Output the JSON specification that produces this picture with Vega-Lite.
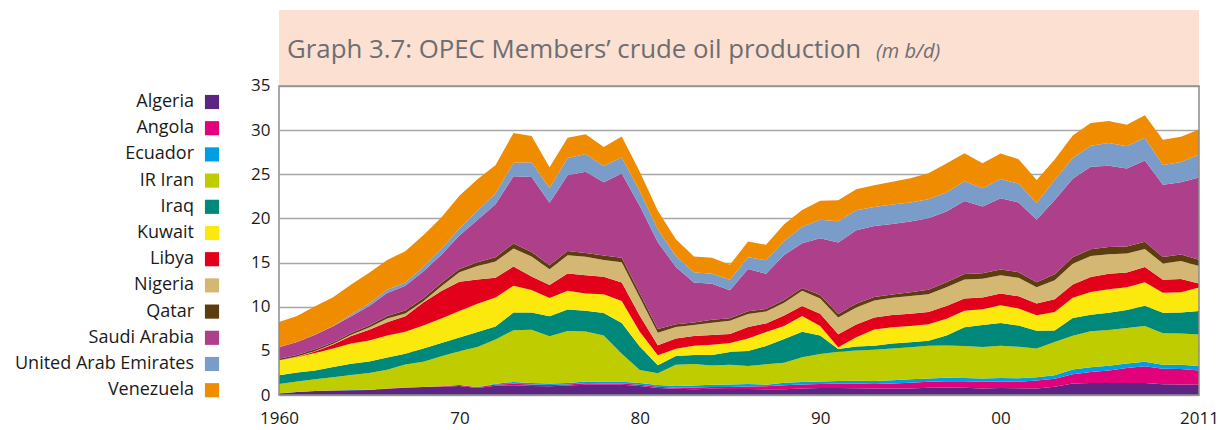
{
  "$schema": "https://vega.github.io/schema/vega-lite/v6.json",
  "width": 920,
  "height": 385,
  "autosize": {"type": "none"},
  "padding": {"left": 279, "top": 10, "right": 31, "bottom": 35},
  "background": "white",
  "config": {"view": {"stroke": null}, "font": "Open Sans"},
  "data": {"values": [
    {"year":1960,"Algeria":0.18,"Angola":0,"Ecuador":0.0075,"IR Iran":1.07,"Iraq":0.97,"Kuwait":1.69,"Libya":0,"Nigeria":0.017,"Qatar":0.17,"Saudi Arabia":1.31,"United Arab Emirates":0,"Venezuela":2.85},
    {"year":1961,"Algeria":0.33,"Angola":0.001,"Ecuador":0.008,"IR Iran":1.2,"Iraq":1.01,"Kuwait":1.74,"Libya":0.018,"Nigeria":0.046,"Qatar":0.18,"Saudi Arabia":1.48,"United Arab Emirates":0,"Venezuela":2.92},
    {"year":1962,"Algeria":0.44,"Angola":0.001,"Ecuador":0.007,"IR Iran":1.33,"Iraq":1.01,"Kuwait":1.96,"Libya":0.18,"Nigeria":0.068,"Qatar":0.19,"Saudi Arabia":1.64,"United Arab Emirates":0.014,"Venezuela":3.2},
    {"year":1963,"Algeria":0.5,"Angola":0.002,"Ecuador":0.0065,"IR Iran":1.49,"Iraq":1.16,"Kuwait":2.1,"Libya":0.46,"Nigeria":0.076,"Qatar":0.19,"Saudi Arabia":1.79,"United Arab Emirates":0.048,"Venezuela":3.25},
    {"year":1964,"Algeria":0.55,"Angola":0.002,"Ecuador":0.0076,"IR Iran":1.71,"Iraq":1.26,"Kuwait":2.3,"Libya":0.86,"Nigeria":0.12,"Qatar":0.22,"Saudi Arabia":1.9,"United Arab Emirates":0.19,"Venezuela":3.39},
    {"year":1965,"Algeria":0.56,"Angola":0.013,"Ecuador":0.0078,"IR Iran":1.91,"Iraq":1.31,"Kuwait":2.36,"Libya":1.22,"Nigeria":0.27,"Qatar":0.23,"Saudi Arabia":2.21,"United Arab Emirates":0.28,"Venezuela":3.47},
    {"year":1966,"Algeria":0.72,"Angola":0.012,"Ecuador":0.0073,"IR Iran":2.13,"Iraq":1.39,"Kuwait":2.48,"Libya":1.5,"Nigeria":0.42,"Qatar":0.29,"Saudi Arabia":2.6,"United Arab Emirates":0.36,"Venezuela":3.37},
    {"year":1967,"Algeria":0.83,"Angola":0.01,"Ecuador":0.0062,"IR Iran":2.6,"Iraq":1.23,"Kuwait":2.5,"Libya":1.74,"Nigeria":0.32,"Qatar":0.32,"Saudi Arabia":2.81,"United Arab Emirates":0.38,"Venezuela":3.54},
    {"year":1968,"Algeria":0.9,"Angola":0.015,"Ecuador":0.005,"IR Iran":2.84,"Iraq":1.5,"Kuwait":2.61,"Libya":2.6,"Nigeria":0.14,"Qatar":0.34,"Saudi Arabia":3.04,"United Arab Emirates":0.5,"Venezuela":3.6},
    {"year":1969,"Algeria":0.94,"Angola":0.05,"Ecuador":0.0044,"IR Iran":3.38,"Iraq":1.52,"Kuwait":2.77,"Libya":3.11,"Nigeria":0.54,"Qatar":0.36,"Saudi Arabia":3.22,"United Arab Emirates":0.63,"Venezuela":3.59},
    {"year":1970,"Algeria":1.03,"Angola":0.1,"Ecuador":0.0041,"IR Iran":3.83,"Iraq":1.55,"Kuwait":2.99,"Libya":3.32,"Nigeria":1.08,"Qatar":0.36,"Saudi Arabia":3.8,"United Arab Emirates":0.78,"Venezuela":3.71},
    {"year":1971,"Algeria":0.78,"Angola":0.11,"Ecuador":0.0037,"IR Iran":4.54,"Iraq":1.69,"Kuwait":3.2,"Libya":2.76,"Nigeria":1.53,"Qatar":0.43,"Saudi Arabia":4.77,"United Arab Emirates":1.06,"Venezuela":3.55},
    {"year":1972,"Algeria":1.06,"Angola":0.14,"Ecuador":0.078,"IR Iran":5.02,"Iraq":1.47,"Kuwait":3.28,"Libya":2.24,"Nigeria":1.82,"Qatar":0.48,"Saudi Arabia":6.02,"United Arab Emirates":1.2,"Venezuela":3.22},
    {"year":1973,"Algeria":1.1,"Angola":0.16,"Ecuador":0.21,"IR Iran":5.86,"Iraq":2.02,"Kuwait":3.02,"Libya":2.18,"Nigeria":2.05,"Qatar":0.57,"Saudi Arabia":7.6,"United Arab Emirates":1.53,"Venezuela":3.37},
    {"year":1974,"Algeria":1.01,"Angola":0.17,"Ecuador":0.18,"IR Iran":6.02,"Iraq":1.97,"Kuwait":2.55,"Libya":1.52,"Nigeria":2.26,"Qatar":0.52,"Saudi Arabia":8.48,"United Arab Emirates":1.68,"Venezuela":2.98},
    {"year":1975,"Algeria":0.98,"Angola":0.16,"Ecuador":0.16,"IR Iran":5.35,"Iraq":2.26,"Kuwait":2.08,"Libya":1.48,"Nigeria":1.78,"Qatar":0.44,"Saudi Arabia":7.08,"United Arab Emirates":1.66,"Venezuela":2.35},
    {"year":1976,"Algeria":1.08,"Angola":0.1,"Ecuador":0.19,"IR Iran":5.88,"Iraq":2.42,"Kuwait":2.15,"Libya":1.93,"Nigeria":2.07,"Qatar":0.5,"Saudi Arabia":8.58,"United Arab Emirates":1.93,"Venezuela":2.29},
    {"year":1977,"Algeria":1.15,"Angola":0.19,"Ecuador":0.18,"IR Iran":5.66,"Iraq":2.35,"Kuwait":1.97,"Libya":2.06,"Nigeria":2.09,"Qatar":0.44,"Saudi Arabia":9.2,"United Arab Emirates":2.0,"Venezuela":2.24},
    {"year":1978,"Algeria":1.16,"Angola":0.13,"Ecuador":0.2,"IR Iran":5.24,"Iraq":2.56,"Kuwait":2.13,"Libya":1.98,"Nigeria":1.9,"Qatar":0.49,"Saudi Arabia":8.3,"United Arab Emirates":1.83,"Venezuela":2.17},
    {"year":1979,"Algeria":1.15,"Angola":0.14,"Ecuador":0.21,"IR Iran":3.17,"Iraq":3.48,"Kuwait":2.5,"Libya":2.09,"Nigeria":2.3,"Qatar":0.51,"Saudi Arabia":9.53,"United Arab Emirates":1.83,"Venezuela":2.36},
    {"year":1980,"Algeria":1.02,"Angola":0.15,"Ecuador":0.2,"IR Iran":1.47,"Iraq":2.65,"Kuwait":1.66,"Libya":1.83,"Nigeria":2.06,"Qatar":0.47,"Saudi Arabia":9.9,"United Arab Emirates":1.7,"Venezuela":2.17},
    {"year":1981,"Algeria":0.8,"Angola":0.13,"Ecuador":0.21,"IR Iran":1.32,"Iraq":0.9,"Kuwait":1.13,"Libya":1.14,"Nigeria":1.43,"Qatar":0.42,"Saudi Arabia":9.82,"United Arab Emirates":1.47,"Venezuela":2.1},
    {"year":1982,"Algeria":0.7,"Angola":0.13,"Ecuador":0.2,"IR Iran":2.39,"Iraq":1.01,"Kuwait":0.82,"Libya":1.15,"Nigeria":1.29,"Qatar":0.33,"Saudi Arabia":6.48,"United Arab Emirates":1.25,"Venezuela":1.9},
    {"year":1983,"Algeria":0.66,"Angola":0.18,"Ecuador":0.24,"IR Iran":2.44,"Iraq":1.01,"Kuwait":1.06,"Libya":1.1,"Nigeria":1.24,"Qatar":0.27,"Saudi Arabia":4.54,"United Arab Emirates":1.15,"Venezuela":1.8},
    {"year":1984,"Algeria":0.7,"Angola":0.2,"Ecuador":0.26,"IR Iran":2.17,"Iraq":1.21,"Kuwait":1.16,"Libya":1.09,"Nigeria":1.39,"Qatar":0.33,"Saudi Arabia":4.08,"United Arab Emirates":1.15,"Venezuela":1.8},
    {"year":1985,"Algeria":0.67,"Angola":0.23,"Ecuador":0.28,"IR Iran":2.25,"Iraq":1.43,"Kuwait":1.02,"Libya":1.02,"Nigeria":1.5,"Qatar":0.29,"Saudi Arabia":3.18,"United Arab Emirates":1.19,"Venezuela":1.68},
    {"year":1986,"Algeria":0.67,"Angola":0.28,"Ecuador":0.29,"IR Iran":2.04,"Iraq":1.69,"Kuwait":1.42,"Libya":1.31,"Nigeria":1.47,"Qatar":0.31,"Saudi Arabia":4.78,"United Arab Emirates":1.33,"Venezuela":1.79},
    {"year":1987,"Algeria":0.65,"Angola":0.35,"Ecuador":0.17,"IR Iran":2.3,"Iraq":2.08,"Kuwait":1.59,"Libya":0.97,"Nigeria":1.34,"Qatar":0.29,"Saudi Arabia":3.98,"United Arab Emirates":1.54,"Venezuela":1.75},
    {"year":1988,"Algeria":0.65,"Angola":0.45,"Ecuador":0.3,"IR Iran":2.24,"Iraq":2.69,"Kuwait":1.49,"Libya":1.18,"Nigeria":1.45,"Qatar":0.32,"Saudi Arabia":5.09,"United Arab Emirates":1.57,"Venezuela":1.9},
    {"year":1989,"Algeria":0.73,"Angola":0.45,"Ecuador":0.28,"IR Iran":2.81,"Iraq":2.9,"Kuwait":1.78,"Libya":1.13,"Nigeria":1.72,"Qatar":0.32,"Saudi Arabia":5.06,"United Arab Emirates":1.86,"Venezuela":1.91},
    {"year":1990,"Algeria":0.78,"Angola":0.47,"Ecuador":0.29,"IR Iran":3.09,"Iraq":2.11,"Kuwait":1.08,"Libya":1.37,"Nigeria":1.73,"Qatar":0.41,"Saudi Arabia":6.41,"United Arab Emirates":2.12,"Venezuela":2.14},
    {"year":1991,"Algeria":0.8,"Angola":0.49,"Ecuador":0.3,"IR Iran":3.31,"Iraq":0.31,"Kuwait":0.19,"Libya":1.48,"Nigeria":1.89,"Qatar":0.39,"Saudi Arabia":8.12,"United Arab Emirates":2.39,"Venezuela":2.38},
    {"year":1992,"Algeria":0.76,"Angola":0.54,"Ecuador":0.32,"IR Iran":3.43,"Iraq":0.43,"Kuwait":1.06,"Libya":1.43,"Nigeria":1.94,"Qatar":0.42,"Saudi Arabia":8.33,"United Arab Emirates":2.27,"Venezuela":2.37},
    {"year":1993,"Algeria":0.75,"Angola":0.5,"Ecuador":0.34,"IR Iran":3.54,"Iraq":0.45,"Kuwait":1.85,"Libya":1.36,"Nigeria":1.91,"Qatar":0.39,"Saudi Arabia":8.05,"United Arab Emirates":2.16,"Venezuela":2.45},
    {"year":1994,"Algeria":0.75,"Angola":0.54,"Ecuador":0.37,"IR Iran":3.62,"Iraq":0.55,"Kuwait":1.85,"Libya":1.39,"Nigeria":1.93,"Qatar":0.38,"Saudi Arabia":7.99,"United Arab Emirates":2.19,"Venezuela":2.59},
    {"year":1995,"Algeria":0.75,"Angola":0.63,"Ecuador":0.39,"IR Iran":3.64,"Iraq":0.56,"Kuwait":1.84,"Libya":1.4,"Nigeria":1.99,"Qatar":0.44,"Saudi Arabia":8.02,"United Arab Emirates":2.15,"Venezuela":2.75},
    {"year":1996,"Algeria":0.81,"Angola":0.69,"Ecuador":0.38,"IR Iran":3.69,"Iraq":0.58,"Kuwait":1.85,"Libya":1.4,"Nigeria":2.0,"Qatar":0.51,"Saudi Arabia":8.1,"United Arab Emirates":2.16,"Venezuela":2.94},
    {"year":1997,"Algeria":0.85,"Angola":0.71,"Ecuador":0.38,"IR Iran":3.66,"Iraq":1.15,"Kuwait":1.88,"Libya":1.45,"Nigeria":2.13,"Qatar":0.55,"Saudi Arabia":8.01,"United Arab Emirates":2.16,"Venezuela":3.28},
    {"year":1998,"Algeria":0.83,"Angola":0.73,"Ecuador":0.37,"IR Iran":3.63,"Iraq":2.11,"Kuwait":1.87,"Libya":1.39,"Nigeria":2.15,"Qatar":0.62,"Saudi Arabia":8.28,"United Arab Emirates":2.24,"Venezuela":3.17},
    {"year":1999,"Algeria":0.75,"Angola":0.75,"Ecuador":0.37,"IR Iran":3.56,"Iraq":2.51,"Kuwait":1.78,"Libya":1.32,"Nigeria":2.13,"Qatar":0.63,"Saudi Arabia":7.56,"United Arab Emirates":2.05,"Venezuela":2.83},
    {"year":2000,"Algeria":0.8,"Angola":0.74,"Ecuador":0.39,"IR Iran":3.66,"Iraq":2.57,"Kuwait":1.99,"Libya":1.35,"Nigeria":2.05,"Qatar":0.65,"Saudi Arabia":8.09,"United Arab Emirates":2.17,"Venezuela":2.89},
    {"year":2001,"Algeria":0.77,"Angola":0.74,"Ecuador":0.39,"IR Iran":3.57,"Iraq":2.39,"Kuwait":1.95,"Libya":1.37,"Nigeria":2.1,"Qatar":0.63,"Saudi Arabia":7.89,"United Arab Emirates":2.12,"Venezuela":2.79},
    {"year":2002,"Algeria":0.73,"Angola":0.9,"Ecuador":0.39,"IR Iran":3.25,"Iraq":2.02,"Kuwait":1.75,"Libya":1.32,"Nigeria":1.83,"Qatar":0.57,"Saudi Arabia":7.09,"United Arab Emirates":1.9,"Venezuela":2.6},
    {"year":2003,"Algeria":0.94,"Angola":0.9,"Ecuador":0.41,"IR Iran":3.74,"Iraq":1.31,"Kuwait":2.11,"Libya":1.42,"Nigeria":2.17,"Qatar":0.68,"Saudi Arabia":8.41,"United Arab Emirates":2.25,"Venezuela":2.34},
    {"year":2004,"Algeria":1.31,"Angola":1.05,"Ecuador":0.52,"IR Iran":3.83,"Iraq":2.01,"Kuwait":2.29,"Libya":1.51,"Nigeria":2.33,"Qatar":0.75,"Saudi Arabia":8.9,"United Arab Emirates":2.34,"Venezuela":2.56},
    {"year":2005,"Algeria":1.35,"Angola":1.25,"Ecuador":0.53,"IR Iran":4.09,"Iraq":1.88,"Kuwait":2.57,"Libya":1.69,"Nigeria":2.37,"Qatar":0.77,"Saudi Arabia":9.35,"United Arab Emirates":2.38,"Venezuela":2.56},
    {"year":2006,"Algeria":1.37,"Angola":1.41,"Ecuador":0.54,"IR Iran":4.03,"Iraq":1.96,"Kuwait":2.66,"Libya":1.75,"Nigeria":2.23,"Qatar":0.8,"Saudi Arabia":9.21,"United Arab Emirates":2.57,"Venezuela":2.51},
    {"year":2007,"Algeria":1.37,"Angola":1.69,"Ecuador":0.51,"IR Iran":4.03,"Iraq":2.04,"Kuwait":2.57,"Libya":1.67,"Nigeria":2.14,"Qatar":0.81,"Saudi Arabia":8.82,"United Arab Emirates":2.53,"Venezuela":2.43},
    {"year":2008,"Algeria":1.36,"Angola":1.9,"Ecuador":0.5,"IR Iran":4.06,"Iraq":2.28,"Kuwait":2.68,"Libya":1.72,"Nigeria":2.02,"Qatar":0.84,"Saudi Arabia":9.2,"United Arab Emirates":2.57,"Venezuela":2.56},
    {"year":2009,"Algeria":1.22,"Angola":1.74,"Ecuador":0.46,"IR Iran":3.56,"Iraq":2.34,"Kuwait":2.26,"Libya":1.47,"Nigeria":1.84,"Qatar":0.73,"Saudi Arabia":8.18,"United Arab Emirates":2.24,"Venezuela":2.88},
    {"year":2010,"Algeria":1.19,"Angola":1.76,"Ecuador":0.48,"IR Iran":3.54,"Iraq":2.36,"Kuwait":2.31,"Libya":1.49,"Nigeria":2.05,"Qatar":0.73,"Saudi Arabia":8.17,"United Arab Emirates":2.32,"Venezuela":2.85},
    {"year":2011,"Algeria":1.16,"Angola":1.62,"Ecuador":0.5,"IR Iran":3.58,"Iraq":2.65,"Kuwait":2.66,"Libya":0.46,"Nigeria":1.97,"Qatar":0.73,"Saudi Arabia":9.31,"United Arab Emirates":2.56,"Venezuela":2.88}
  ]},
  "layer": [
    {
      "data": {"values": [{}]},
      "mark": {"type": "rect", "color": "#fce0d2"},
      "encoding": {
        "x": {"datum": 1960, "type": "quantitative", "scale": {"domain": [1960, 2011], "nice": false, "zero": false}},
        "x2": {"datum": 2011},
        "y": {"datum": 35, "type": "quantitative", "scale": {"domain": [0, 43.6], "nice": false, "zero": true}},
        "y2": {"datum": 43.6}
      }
    },
    {
      "transform": [{"fold": ["Algeria","Angola","Ecuador","IR Iran","Iraq","Kuwait","Libya","Nigeria","Qatar","Saudi Arabia","United Arab Emirates","Venezuela"], "as": ["country","value"]}],
      "mark": {"type": "area", "interpolate": "linear"},
      "encoding": {
        "x": {"field": "year", "type": "quantitative", "scale": {"domain": [1960, 2011], "nice": false, "zero": false},
          "axis": {"values": [1960,1970,1980,1990,2000,2011], "labelExpr": "datum.value == 1960 || datum.value == 2011 ? toString(datum.value) : slice(toString(datum.value), 2)", "grid": false, "domain": false, "ticks": false, "labelPadding": 15, "labelFontSize": 17, "labelColor": "#1a1a1a", "labelFlush": false, "labelOverlap": false, "title": null}},
        "y": {"field": "value", "type": "quantitative", "stack": "zero", "scale": {"domain": [0, 43.6], "nice": false, "zero": true},
          "axis": {"values": [0,5,10,15,20,25,30,35], "grid": true, "gridColor": "#a6a6a6", "gridWidth": 1.3, "domain": false, "ticks": false, "labelPadding": 9, "labelFontSize": 17, "labelColor": "#1a1a1a", "title": null}},
        "order": {"field": "country", "sort": "ascending"},
        "color": {"field": "country", "type": "nominal",
          "scale": {"domain": ["Algeria","Angola","Ecuador","IR Iran","Iraq","Kuwait","Libya","Nigeria","Qatar","Saudi Arabia","United Arab Emirates","Venezuela"],
                    "range": ["#5c2483","#e3007b","#009fe3","#bfcc00","#00887a","#fbe80c","#e2001a","#d5b774","#5c3d0e","#ae408b","#7a9cc8","#f08c00"]},
          "legend": {"orient": "none", "legendX": -76, "legendY": 83, "title": null, "symbolType": "square", "symbolSize": 200, "symbolStrokeWidth": 0, "labelAlign": "right", "labelOffset": -27, "labelFontSize": 18, "labelColor": "#1a1a1a", "rowPadding": 8.2, "padding": 0, "labelLimit": 300}}
      }
    },
    {
      "data": {"values": [{}]},
      "mark": {"type": "rect", "filled": false, "stroke": "#8c8c8c", "strokeWidth": 1.5},
      "encoding": {
        "x": {"datum": 1960, "type": "quantitative", "scale": {"domain": [1960, 2011], "nice": false, "zero": false}},
        "x2": {"datum": 2011},
        "y": {"datum": 0, "type": "quantitative", "scale": {"domain": [0, 43.6], "nice": false, "zero": true}},
        "y2": {"datum": 35}
      }
    },
    {
      "data": {"values": [{}]},
      "mark": {"type": "text", "align": "left", "baseline": "alphabetic", "font": "Open Sans", "fontSize": 25.8, "color": "#6d6e71", "dx": 8},
      "encoding": {
        "x": {"datum": 1960, "type": "quantitative", "scale": {"domain": [1960, 2011], "nice": false, "zero": false}},
        "y": {"datum": 38.2, "type": "quantitative", "scale": {"domain": [0, 43.6], "nice": false, "zero": true}},
        "text": {"value": "Graph 3.7: OPEC Members’ crude oil production"}
      }
    },
    {
      "data": {"values": [{}]},
      "mark": {"type": "text", "align": "left", "baseline": "alphabetic", "font": "Open Sans", "fontSize": 20, "fontStyle": "italic", "color": "#6d6e71"},
      "encoding": {
        "x": {"datum": 1993.1, "type": "quantitative", "scale": {"domain": [1960, 2011], "nice": false, "zero": false}},
        "y": {"datum": 38.2, "type": "quantitative", "scale": {"domain": [0, 43.6], "nice": false, "zero": true}},
        "text": {"value": "(m b/d)"}
      }
    }
  ]
}
